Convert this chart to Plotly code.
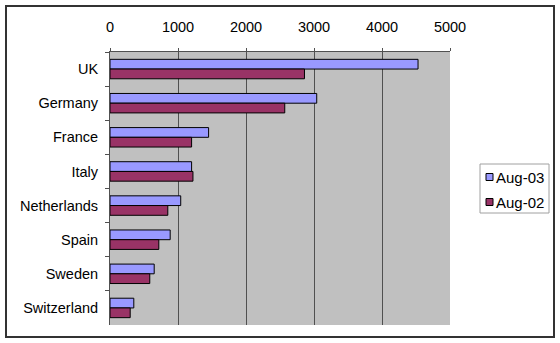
import plotly.graph_objects as go

# Market figures by country, two snapshots
countries = ["UK", "Germany", "France", "Italy", "Netherlands", "Spain", "Sweden", "Switzerland"]
aug_03 = [4530, 3040, 1450, 1200, 1040, 885, 650, 350]
aug_02 = [2860, 2570, 1200, 1220, 850, 718, 585, 297]
series_names = ["Aug-03", "Aug-02"]
series_colors = ["#9999FF", "#993366"]
x_ticks = [0, 1000, 2000, 3000, 4000, 5000]

W, H = 560, 343
L, R, T, B = 110, 110, 52, 18
pw, ph = W - L - R, H - T - B


def px_x(p):
    """Horizontal pixel -> paper fraction."""
    return (p - L) / pw


def px_y(p):
    """Vertical pixel (from top) -> paper fraction."""
    return (H - B - p) / ph


fig = go.Figure()
for name, vals, col in zip(series_names, [aug_03, aug_02], series_colors):
    fig.add_trace(go.Bar(y=countries, x=vals, name=name, orientation="h",
                         marker=dict(color=col, line=dict(color="black", width=1)),
                         showlegend=False))

font = dict(family="Liberation Sans, Arial, sans-serif", size=14.5, color="black")

shapes = [
    # outer chart border
    dict(type="rect", xref="paper", yref="paper",
         x0=px_x(6), x1=px_x(554), y0=px_y(337), y1=px_y(6),
         line=dict(color="#333333", width=2), layer="below"),
    # legend box
    dict(type="rect", xref="paper", yref="paper",
         x0=px_x(480), x1=px_x(549), y0=px_y(213), y1=px_y(164),
         line=dict(color="#A0A0A0", width=1), fillcolor="white", layer="below"),
]
annotations = []
for i, (name, col) in enumerate(zip(series_names, series_colors)):
    cy = 177 + 25 * i
    shapes.append(dict(type="rect", xref="paper", yref="paper",
                       x0=px_x(486), x1=px_x(493), y0=px_y(cy + 3.5), y1=px_y(cy - 3.5),
                       line=dict(color="black", width=1), fillcolor=col))
    annotations.append(dict(x=px_x(494), y=px_y(cy), xref="paper", yref="paper",
                            text=name, showarrow=False, xanchor="left", yanchor="middle",
                            font=dict(family="Liberation Sans, Arial, sans-serif", size=15,
                                      color="black")))

fig.update_layout(
    width=W, height=H,
    margin=dict(l=L, r=R, t=T, b=B),
    paper_bgcolor="white",
    plot_bgcolor="#C0C0C0",
    barmode="group",
    bargap=0.43,
    bargroupgap=0,
    font=font,
    showlegend=False,
    xaxis=dict(
        side="top", range=[0, 5000], tickvals=x_ticks,
        showgrid=True, gridcolor="#505050", gridwidth=1,
        ticks="outside", ticklen=3, tickcolor="#505050",
        showline=True, linecolor="#505050", linewidth=1,
        zeroline=False, ticklabelstandoff=10,
    ),
    yaxis=dict(
        categoryorder="array", categoryarray=countries,
        autorange="reversed",
        showgrid=False, tickson="boundaries",
        ticks="outside", ticklen=4, tickcolor="#505050",
        showline=True, linecolor="#505050", linewidth=1,
        ticklabelstandoff=8,
    ),
    shapes=shapes,
    annotations=annotations,
)

fig.write_html("out.html")
